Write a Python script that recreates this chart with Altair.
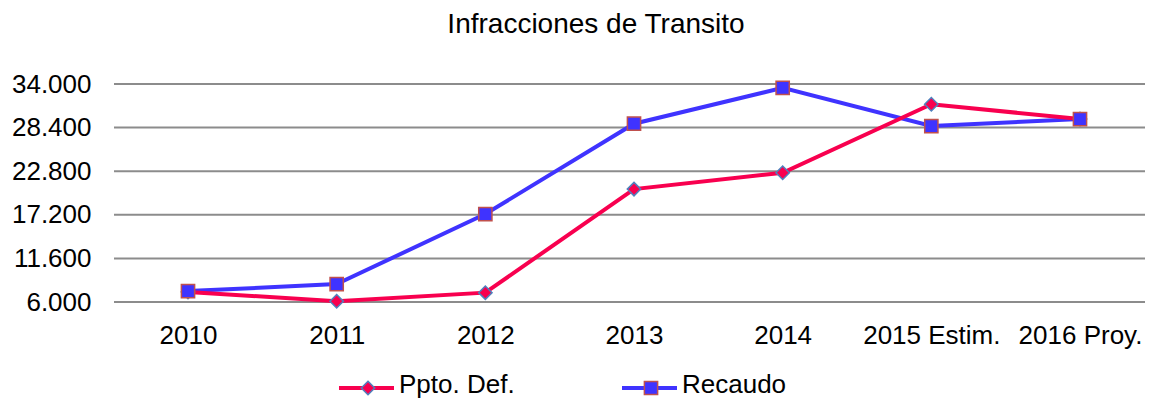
import altair as alt
import pandas as pd

years = ["2010", "2011", "2012", "2013", "2014", "2015 Estim.", "2016 Proy."]
ppto = [7300, 6100, 7200, 20500, 22600, 31400, 29500]
recaudo = [7400, 8300, 17300, 28900, 33500, 28600, 29500]
series = ["Ppto. Def.", "Recaudo"]
y_ticks = [6000, 11600, 17200, 22800, 28400, 34000]
chart_title = "Infracciones de Transito"

RED = "#F8004F"
BLUE = "#3F33FF"
DIAMOND_EDGE = "#4F81BD"
SQUARE_EDGE = "#C0504D"
GRID = "#8C8C8C"
FONT = "Liberation Sans"
FS = 26
W = 1031

df = pd.DataFrame({
    "year": years * 2,
    "value": ppto + recaudo,
    "series": [series[0]] * len(years) + [series[1]] * len(years),
})

x_enc = alt.X("year:O", sort=years, title=None,
              scale=alt.Scale(type="point", range=[74, 966], padding=0),
              axis=alt.Axis(labelAngle=0, grid=False, domain=False, ticks=False,
                            labelPadding=20, labelFontSize=FS, labelFont=FONT,
                            labelColor="black"))
y_scale = alt.Scale(domain=[6000, 34000], nice=False, zero=False)
y_enc = alt.Y("value:Q", title=None, scale=y_scale,
              axis=alt.Axis(values=y_ticks, grid=False,
                            domain=False, ticks=False, labelPadding=23,
                            labelFontSize=FS, labelFont=FONT, labelColor="black",
                            labelExpr="replace(format(datum.value, ',.0f'), ',', '.')"))

grid = alt.Chart(pd.DataFrame({"value": y_ticks})).mark_rule(
    color=GRID, strokeWidth=2).encode(
    y=y_enc, x=alt.value(0), x2=alt.value(W))

base = alt.Chart(df)

line_rec = base.transform_filter(alt.datum.series == series[1]).mark_line(
    color=BLUE, strokeWidth=4).encode(x=x_enc, y=y_enc)
line_ppto = base.transform_filter(alt.datum.series == series[0]).mark_line(
    color=RED, strokeWidth=4).encode(x=x_enc, y=y_enc)
pts_ppto = base.transform_filter(alt.datum.series == series[0]).mark_point(
    shape="diamond", filled=True, fill=RED, stroke=DIAMOND_EDGE, strokeWidth=1.5,
    size=180, opacity=1).encode(x=x_enc, y=y_enc)
pts_rec = base.transform_filter(alt.datum.series == series[1]).mark_point(
    shape="square", filled=True, fill=BLUE, stroke=SQUARE_EDGE, strokeWidth=1.5,
    size=175, opacity=1).encode(x=x_enc, y=y_enc)

title_layer = alt.Chart(pd.DataFrame({"t": [chart_title]})).mark_text(
    align="center", baseline="alphabetic", fontSize=28, font=FONT, color="black"
).encode(x=alt.value(482), y=alt.value(-51), text="t:N")

# manual legend
leg_y = 304
txt_y = 309
l1 = pd.DataFrame({"s": [series[0]]})
l2 = pd.DataFrame({"s": [series[1]]})
leg = [
    alt.Chart(l1).mark_rule(color=RED, strokeWidth=4).encode(
        x=alt.value(225), x2=alt.value(280), y=alt.value(leg_y)),
    alt.Chart(l1).mark_point(shape="diamond", filled=True, fill=RED, stroke=DIAMOND_EDGE,
                             strokeWidth=1.5, size=180, opacity=1).encode(
        x=alt.value(254), y=alt.value(leg_y)),
    alt.Chart(l1).mark_text(align="left", baseline="alphabetic", fontSize=FS, font=FONT,
                            color="black").encode(
        x=alt.value(285), y=alt.value(txt_y), text="s:N"),
    alt.Chart(l2).mark_rule(color=BLUE, strokeWidth=4).encode(
        x=alt.value(508), x2=alt.value(563), y=alt.value(leg_y)),
    alt.Chart(l2).mark_point(shape="square", filled=True, fill=BLUE, stroke=SQUARE_EDGE,
                             strokeWidth=1.5, size=175, opacity=1).encode(
        x=alt.value(537), y=alt.value(leg_y)),
    alt.Chart(l2).mark_text(align="left", baseline="alphabetic", fontSize=FS, font=FONT,
                            color="black").encode(
        x=alt.value(568), y=alt.value(txt_y), text="s:N"),
]

chart = alt.layer(grid, line_rec, line_ppto, pts_ppto, pts_rec, title_layer, *leg).properties(
    width=W, height=218,
    autosize=alt.AutoSizeParams(type="none"),
    padding={"left": 106, "top": 76, "right": 0, "bottom": 96},
).configure_view(stroke=None)

chart.save("out.html", embed_options={"renderer": "svg", "actions": False})
